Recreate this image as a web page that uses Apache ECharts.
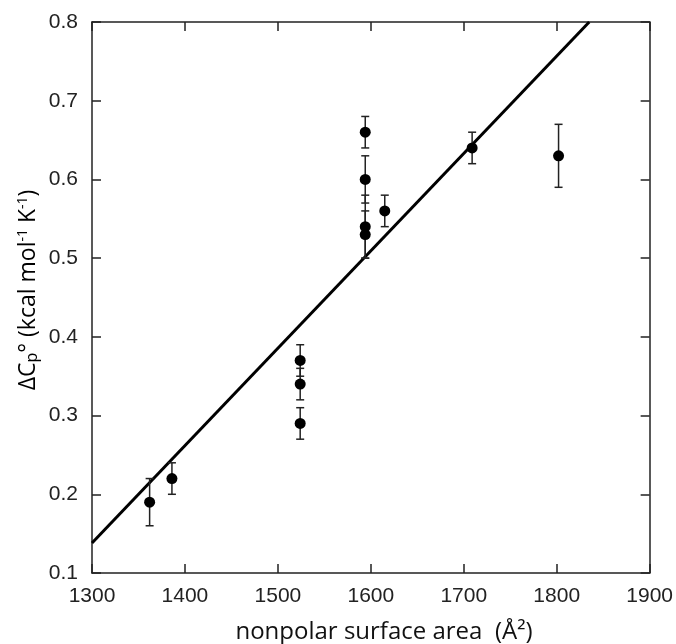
<!DOCTYPE html>
<html>
<head>
<meta charset="utf-8">
<script src="https://cdn.jsdelivr.net/npm/echarts@6/dist/echarts.min.js"></script>
<style>html,body{margin:0;padding:0;background:#fff}#c{width:676px;height:644px}</style>
</head>
<body>
<div id="c"></div>
<script>
// Data
const areas = [1362, 1386, 1524, 1524, 1524, 1594, 1594, 1594, 1594, 1615, 1709, 1802];
const dCp = [0.19, 0.22, 0.37, 0.34, 0.29, 0.66, 0.60, 0.54, 0.53, 0.56, 0.64, 0.63];
const errs = [0.03, 0.02, 0.02, 0.02, 0.02, 0.02, 0.03, 0.04, 0.03, 0.02, 0.02, 0.04];
const fitX = [1300, 1835];
const fitY = [0.138, 0.8];
const xTicks = [1300, 1400, 1500, 1600, 1700, 1800, 1900];
const yTicks = [0.1, 0.2, 0.3, 0.4, 0.5, 0.6, 0.7, 0.8];

const chart = echarts.init(document.getElementById('c'), null, {renderer: 'canvas'});
const axisCol = '#222';
const lblStyle = {color: '#222', fontSize: 21, fontFamily: 'Liberation Sans'};

const baseX = {
  type: 'value', min: xTicks[0], max: xTicks[xTicks.length - 1], interval: 100,
  axisLine: {show: true, lineStyle: {color: axisCol, width: 1.5}},
  axisTick: {show: true, inside: true, length: 9, lineStyle: {color: axisCol, width: 1.5}},
  splitLine: {show: false}
};
const baseY = {
  type: 'value', min: yTicks[0], max: yTicks[yTicks.length - 1], interval: 0.1,
  axisLine: {show: true, lineStyle: {color: axisCol, width: 1.5}},
  axisTick: {show: true, inside: true, length: 9, lineStyle: {color: axisCol, width: 1.5}},
  splitLine: {show: false}
};

const errData = areas.map((x, i) => [x, dCp[i] - errs[i], dCp[i] + errs[i]]);

chart.setOption({
  animation: false,
  backgroundColor: '#fff',
  grid: {left: 92, right: 24, top: 22, bottom: 71, containLabel: false},
  xAxis: [
    Object.assign({}, baseX, {position: 'bottom',
      axisLabel: Object.assign({margin: 13, formatter: v => String(v)}, lblStyle)}),
    Object.assign({}, baseX, {position: 'top', axisLabel: {show: false}})
  ],
  yAxis: [
    Object.assign({}, baseY, {position: 'left',
      axisLabel: Object.assign({margin: 14, formatter: v => v.toFixed(1)}, lblStyle)}),
    Object.assign({}, baseY, {position: 'right', axisLabel: {show: false}})
  ],
  graphic: [
    {
      type: 'text', x: 384, y: 632,
      style: {
        text: 'nonpolar surface area  (Å²)',
        font: '24px "Open Sans", sans-serif', fill: '#111',
        textAlign: 'center', textVerticalAlign: 'middle'
      }
    },
    {
      type: 'text', x: 28, y: 290, rotation: Math.PI / 2,
      style: {
        rich: {
          n: {fontSize: 23, fontFamily: 'Open Sans', color: '#111'},
          sub: {fontSize: 16, fontFamily: 'Open Sans', color: '#111', padding: [9, 0, 0, 0]},
          sup: {fontSize: 14, fontFamily: 'Open Sans', color: '#111', padding: [0, 0, 10, 0]}
        },
        text: '{n|ΔC}{sub|p}{n|° (kcal mol}{sup|-1}{n| K}{sup|-1}{n|)}',
        textAlign: 'center', textVerticalAlign: 'middle'
      }
    }
  ],
  series: [
    {
      type: 'line', data: fitX.map((x, i) => [x, fitY[i]]),
      showSymbol: false, symbol: 'none',
      lineStyle: {color: '#000', width: 3}, z: 3
    },
    {
      type: 'custom', data: errData, z: 4,
      renderItem: function (params, api) {
        const x = api.value(0);
        const lo = api.coord([x, api.value(1)]);
        const hi = api.coord([x, api.value(2)]);
        const hw = 4;
        const st = {stroke: '#222', lineWidth: 1.5};
        return {
          type: 'group',
          children: [
            {type: 'line', shape: {x1: lo[0], y1: lo[1], x2: hi[0], y2: hi[1]}, style: st},
            {type: 'line', shape: {x1: lo[0] - hw, y1: lo[1], x2: lo[0] + hw, y2: lo[1]}, style: st},
            {type: 'line', shape: {x1: hi[0] - hw, y1: hi[1], x2: hi[0] + hw, y2: hi[1]}, style: st}
          ]
        };
      }
    },
    {
      type: 'scatter', data: areas.map((x, i) => [x, dCp[i]]),
      symbol: 'circle', symbolSize: 11, itemStyle: {color: '#000', opacity: 1}, z: 5
    }
  ]
});
</script>
</body>
</html>
